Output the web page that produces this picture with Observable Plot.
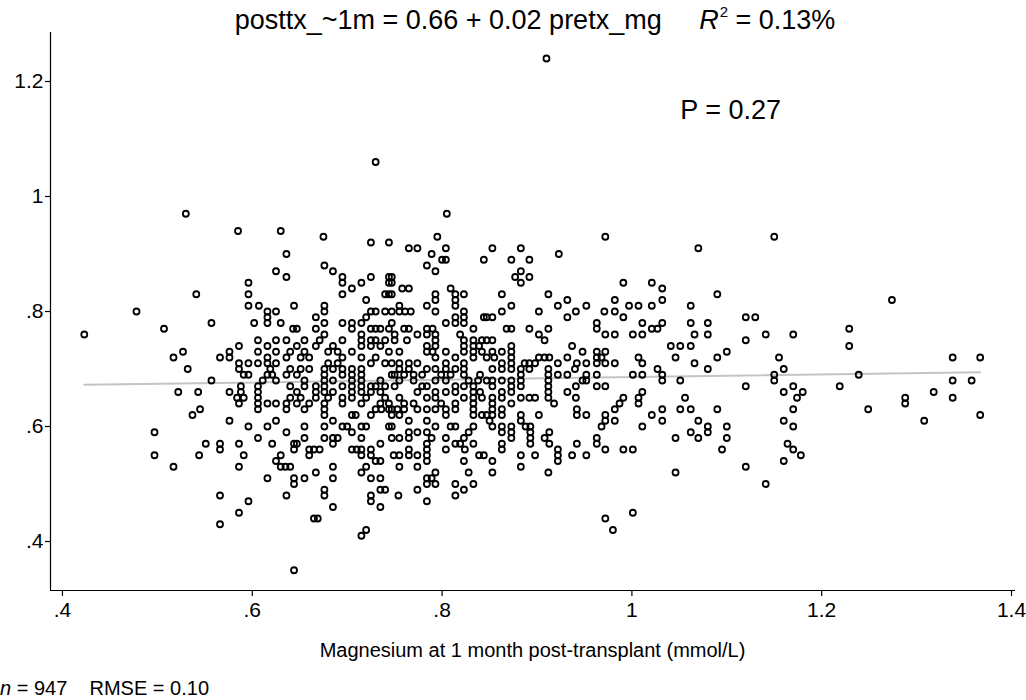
<!DOCTYPE html>
<html>
<head>
<meta charset="utf-8">
<script src="https://cdn.jsdelivr.net/npm/d3@7"></script>
<script src="https://cdn.jsdelivr.net/npm/@observablehq/plot@0.6"></script>
<style>
  body { margin: 0; background: #fff; }
  #wrap { position: relative; width: 1026px; height: 700px; font-family: "Liberation Sans", Arial, sans-serif; color: #000; }
  #chart { position: absolute; left: 0; top: 0; }
  #title { position: absolute; left: 0; width: 1070px; top: 7px; text-align: center; font-size: 27px; white-space: pre; line-height: 1; }
  #title sup { font-size: 15px; vertical-align: 0; position: relative; top: -12px; margin-left: 1px; }
  #xlabel { position: absolute; left: 50px; width: 965px; top: 640px; text-align: center; font-size: 20px; line-height: 1; }
  #footer { position: absolute; left: 0; top: 678px; font-size: 20px; white-space: pre; line-height: 1; }
</style>
</head>
<body>
<div id="wrap">
  <div id="chart"></div>
  <div id="title">posttx_~1m = 0.66 + 0.02 pretx_mg     <i>R</i><sup>2</sup> = 0.13%</div>
  <div id="xlabel">Magnesium at 1 month post-transplant (mmol/L)</div>
  <div id="footer"><i>n</i> = 947    RMSE = 0.10</div>
</div>
<script>
// Tick values and labels (Stata style, leading zero dropped)
const xTicks = [0.4, 0.6, 0.8, 1.0, 1.2, 1.4];
const xTickLabels = [".4", ".6", ".8", "1", "1.2", "1.4"];
const yTicks = [0.4, 0.6, 0.8, 1.0, 1.2];
const yTickLabels = [".4", ".6", ".8", "1", "1.2"];
const xDomain = [0.3874, 1.4042];
const yDomain = [0.3148, 1.2852];

// Fitted line endpoints
const fitX = [0.423, 1.367];
const fitY = [0.6725, 0.6944];

// Annotation
const annotations = [{x: 1.051, y: 1.15, label: "P = 0.27"}];

// Scatter points: [x = Mg at 1 month, y = post-tx Mg]
const outlierPoints = [[0.91,1.24],[0.73,1.06],[0.53,0.97],[0.805,0.97],[0.585,0.94],[0.63,0.94],[0.675,0.93],[0.795,0.93]];
const leftPoints = [[0.423,0.76],[0.478,0.80],[0.541,0.83],[0.507,0.77],[0.527,0.73],[0.517,0.72],[0.532,0.70],[0.522,0.66],[0.543,0.66],[0.537,0.62],[0.545,0.63],[0.497,0.59],[0.497,0.55],[0.517,0.53],[0.544,0.55]];
const pointsA = [[0.636,0.90],[0.625,0.87],[0.636,0.86],[0.596,0.85],[0.596,0.83],[0.596,0.81],[0.607,0.81],[0.616,0.80],[0.616,0.79],[0.616,0.78],[0.625,0.80],[0.644,0.81],[0.557,0.78],[0.602,0.78],[0.630,0.78],[0.643,0.77],[0.606,0.75],[0.616,0.74],[0.625,0.75],[0.636,0.75],[0.586,0.74],[0.576,0.73],[0.566,0.72],[0.576,0.72],[0.606,0.73],[0.616,0.72],[0.625,0.73],[0.636,0.72],[0.640,0.73],[0.586,0.71],[0.596,0.71],[0.606,0.71],[0.616,0.71],[0.625,0.71],[0.586,0.70],[0.591,0.69],[0.596,0.69],[0.619,0.70],[0.616,0.69],[0.621,0.69],[0.611,0.68],[0.625,0.68],[0.636,0.69],[0.640,0.70],[0.640,0.67],[0.557,0.68],[0.588,0.67],[0.588,0.66],[0.584,0.65],[0.591,0.65],[0.576,0.66],[0.606,0.67],[0.606,0.66],[0.606,0.65],[0.606,0.64],[0.586,0.64],[0.616,0.64],[0.625,0.64],[0.636,0.64],[0.640,0.65]];
const pointsB = [[0.606,0.63],[0.636,0.63],[0.576,0.61],[0.596,0.60],[0.616,0.60],[0.625,0.61],[0.636,0.59],[0.606,0.58],[0.551,0.57],[0.566,0.57],[0.566,0.56],[0.586,0.57],[0.621,0.57],[0.644,0.57],[0.644,0.56],[0.591,0.55],[0.630,0.55],[0.625,0.54],[0.630,0.53],[0.635,0.53],[0.640,0.53],[0.586,0.53],[0.616,0.51],[0.644,0.51],[0.644,0.50],[0.566,0.48],[0.596,0.47],[0.636,0.48],[0.586,0.45],[0.566,0.43],[0.644,0.35]];
const pointsC = [[0.725,0.92],[0.744,0.92],[0.676,0.88],[0.685,0.87],[0.695,0.86],[0.695,0.85],[0.705,0.84],[0.715,0.85],[0.725,0.86],[0.744,0.86],[0.744,0.85],[0.695,0.83],[0.72,0.82],[0.74,0.83],[0.744,0.83],[0.676,0.81],[0.676,0.80],[0.667,0.79],[0.676,0.78],[0.695,0.78],[0.705,0.78],[0.715,0.78],[0.72,0.79],[0.725,0.80],[0.73,0.80],[0.74,0.80],[0.647,0.77],[0.667,0.77],[0.676,0.76],[0.705,0.77],[0.715,0.76],[0.725,0.77],[0.73,0.77],[0.735,0.77],[0.744,0.77],[0.655,0.75],[0.671,0.75],[0.695,0.75],[0.715,0.75],[0.725,0.75],[0.73,0.75],[0.74,0.75],[0.647,0.74],[0.667,0.74],[0.685,0.74],[0.705,0.73],[0.715,0.74],[0.725,0.74],[0.735,0.74],[0.744,0.73],[0.655,0.73],[0.68,0.73],[0.69,0.73],[0.695,0.72],[0.651,0.72],[0.66,0.72],[0.68,0.71],[0.69,0.71],[0.715,0.72],[0.725,0.71],[0.73,0.72],[0.74,0.71],[0.651,0.70],[0.66,0.70],[0.676,0.70],[0.685,0.70],[0.695,0.70],[0.705,0.70],[0.715,0.70],[0.647,0.69],[0.676,0.69],[0.695,0.69],[0.705,0.69],[0.715,0.69],[0.655,0.68],[0.676,0.68],[0.685,0.68],[0.705,0.68],[0.715,0.68],[0.735,0.68],[0.655,0.67],[0.667,0.67],[0.676,0.67],[0.695,0.67],[0.705,0.67],[0.715,0.67],[0.725,0.67],[0.73,0.67],[0.74,0.67],[0.647,0.66],[0.667,0.66],[0.676,0.66],[0.685,0.66],[0.705,0.66],[0.715,0.66],[0.725,0.66],[0.735,0.66],[0.651,0.65],[0.667,0.65],[0.68,0.65],[0.695,0.65],[0.705,0.65],[0.72,0.65],[0.74,0.65],[0.647,0.64],[0.66,0.64],[0.676,0.64],[0.695,0.64],[0.715,0.64],[0.735,0.64],[0.744,0.64]];
const pointsD = [[0.655,0.63],[0.676,0.63],[0.676,0.62],[0.705,0.62],[0.709,0.62],[0.725,0.62],[0.73,0.63],[0.736,0.63],[0.744,0.63],[0.744,0.60],[0.655,0.60],[0.676,0.60],[0.685,0.61],[0.695,0.60],[0.70,0.60],[0.705,0.59],[0.715,0.60],[0.72,0.60],[0.655,0.58],[0.676,0.58],[0.685,0.58],[0.69,0.58],[0.715,0.58],[0.647,0.57],[0.685,0.57],[0.66,0.56],[0.665,0.56],[0.671,0.56],[0.705,0.56],[0.71,0.56],[0.715,0.56],[0.725,0.56],[0.735,0.57],[0.66,0.55],[0.715,0.55],[0.725,0.55],[0.73,0.54],[0.735,0.54],[0.72,0.53],[0.685,0.53],[0.715,0.52],[0.667,0.52],[0.655,0.51],[0.685,0.51],[0.725,0.51],[0.735,0.51],[0.735,0.49],[0.74,0.49],[0.676,0.49],[0.676,0.48],[0.725,0.48],[0.725,0.47],[0.735,0.46],[0.685,0.46],[0.665,0.44],[0.669,0.44],[0.72,0.42],[0.715,0.41]];
const pointsE = [[0.765,0.91],[0.774,0.91],[0.804,0.91],[0.789,0.90],[0.80,0.89],[0.804,0.89],[0.784,0.88],[0.793,0.87],[0.844,0.89],[0.747,0.86],[0.747,0.85],[0.758,0.84],[0.765,0.84],[0.747,0.83],[0.809,0.84],[0.814,0.83],[0.823,0.83],[0.793,0.83],[0.793,0.82],[0.814,0.82],[0.814,0.81],[0.784,0.81],[0.755,0.81],[0.747,0.80],[0.755,0.80],[0.761,0.80],[0.767,0.80],[0.793,0.80],[0.823,0.80],[0.814,0.79],[0.823,0.79],[0.804,0.78],[0.814,0.78],[0.823,0.78],[0.844,0.79],[0.747,0.78],[0.76,0.77],[0.765,0.77],[0.784,0.77],[0.79,0.77],[0.833,0.77],[0.75,0.76],[0.774,0.76],[0.784,0.76],[0.793,0.76],[0.819,0.76],[0.763,0.75],[0.793,0.75],[0.823,0.75],[0.833,0.75],[0.842,0.75],[0.75,0.75],[0.784,0.74],[0.793,0.74],[0.823,0.74],[0.833,0.74],[0.839,0.74],[0.755,0.73],[0.784,0.73],[0.79,0.73],[0.804,0.73],[0.823,0.73],[0.833,0.73],[0.842,0.73],[0.793,0.72],[0.814,0.72],[0.833,0.72],[0.747,0.71],[0.755,0.71],[0.765,0.71],[0.774,0.71],[0.804,0.71],[0.823,0.71],[0.755,0.70],[0.765,0.70],[0.784,0.70],[0.793,0.70],[0.804,0.70],[0.814,0.70],[0.823,0.70],[0.747,0.69],[0.75,0.69],[0.76,0.69],[0.77,0.69],[0.779,0.69],[0.799,0.69],[0.809,0.69],[0.823,0.69],[0.84,0.69],[0.755,0.68],[0.77,0.68],[0.793,0.68],[0.804,0.68],[0.828,0.68],[0.838,0.68],[0.75,0.67],[0.779,0.67],[0.784,0.67],[0.814,0.67],[0.823,0.67],[0.833,0.67],[0.774,0.66],[0.793,0.66],[0.804,0.66],[0.814,0.66],[0.833,0.66],[0.84,0.66],[0.755,0.65],[0.784,0.65],[0.793,0.65],[0.823,0.65],[0.833,0.65],[0.76,0.64],[0.77,0.64],[0.799,0.64],[0.814,0.64],[0.833,0.64],[0.842,0.65]];
const pointsF = [[0.747,0.63],[0.753,0.63],[0.76,0.63],[0.747,0.62],[0.755,0.62],[0.774,0.63],[0.784,0.63],[0.793,0.63],[0.804,0.63],[0.814,0.63],[0.804,0.62],[0.833,0.63],[0.833,0.62],[0.842,0.62],[0.784,0.61],[0.765,0.61],[0.747,0.60],[0.793,0.60],[0.809,0.60],[0.814,0.60],[0.833,0.60],[0.765,0.59],[0.774,0.59],[0.784,0.59],[0.828,0.59],[0.747,0.58],[0.755,0.58],[0.765,0.58],[0.789,0.58],[0.804,0.58],[0.823,0.58],[0.784,0.57],[0.814,0.57],[0.819,0.57],[0.833,0.57],[0.765,0.56],[0.784,0.56],[0.804,0.56],[0.824,0.56],[0.749,0.55],[0.755,0.55],[0.765,0.55],[0.774,0.55],[0.784,0.55],[0.839,0.55],[0.844,0.55],[0.784,0.54],[0.823,0.54],[0.755,0.53],[0.774,0.53],[0.793,0.52],[0.828,0.52],[0.784,0.51],[0.789,0.51],[0.784,0.50],[0.793,0.50],[0.814,0.50],[0.833,0.50],[0.774,0.49],[0.823,0.49],[0.754,0.48],[0.814,0.48],[0.784,0.47]];
const pointsG = [[0.853,0.91],[0.883,0.91],[0.923,0.90],[0.873,0.89],[0.892,0.89],[0.883,0.87],[0.877,0.86],[0.892,0.86],[0.883,0.85],[0.863,0.83],[0.912,0.83],[0.922,0.81],[0.932,0.82],[0.941,0.80],[0.873,0.81],[0.863,0.80],[0.902,0.80],[0.932,0.79],[0.853,0.79],[0.847,0.79],[0.868,0.77],[0.873,0.77],[0.892,0.77],[0.902,0.76],[0.912,0.77],[0.908,0.75],[0.853,0.75],[0.847,0.75],[0.853,0.73],[0.863,0.73],[0.873,0.74],[0.873,0.73],[0.873,0.72],[0.873,0.71],[0.847,0.72],[0.855,0.72],[0.863,0.71],[0.887,0.71],[0.892,0.71],[0.898,0.71],[0.902,0.72],[0.908,0.72],[0.913,0.72],[0.932,0.72],[0.937,0.74],[0.922,0.71],[0.942,0.71],[0.853,0.70],[0.863,0.70],[0.873,0.70],[0.883,0.70],[0.892,0.70],[0.912,0.70],[0.922,0.69],[0.932,0.69],[0.94,0.70],[0.847,0.68],[0.853,0.68],[0.863,0.68],[0.873,0.68],[0.883,0.69],[0.883,0.68],[0.912,0.69],[0.912,0.68],[0.912,0.67],[0.912,0.66],[0.912,0.65],[0.918,0.64],[0.853,0.67],[0.873,0.67],[0.883,0.67],[0.863,0.66],[0.873,0.66],[0.853,0.65],[0.863,0.65],[0.883,0.65],[0.892,0.65],[0.898,0.65],[0.853,0.64],[0.873,0.64],[0.932,0.66],[0.941,0.67],[0.941,0.65]];
const pointsH = [[0.853,0.63],[0.863,0.63],[0.853,0.62],[0.863,0.62],[0.883,0.62],[0.902,0.62],[0.942,0.63],[0.942,0.62],[0.847,0.62],[0.85,0.61],[0.883,0.61],[0.853,0.60],[0.863,0.60],[0.873,0.60],[0.888,0.60],[0.893,0.60],[0.863,0.59],[0.873,0.59],[0.893,0.59],[0.913,0.59],[0.873,0.58],[0.893,0.58],[0.908,0.58],[0.863,0.57],[0.893,0.57],[0.913,0.57],[0.942,0.57],[0.863,0.56],[0.922,0.56],[0.922,0.55],[0.922,0.54],[0.853,0.54],[0.883,0.55],[0.898,0.55],[0.937,0.55],[0.883,0.53],[0.853,0.52],[0.912,0.52]];
const pointsI = [[0.972,0.93],[1.150,0.93],[1.070,0.91],[0.991,0.85],[1.021,0.85],[1.032,0.84],[1.032,0.82],[0.982,0.82],[0.952,0.81],[0.971,0.80],[0.982,0.80],[0.997,0.81],[1.007,0.81],[1.021,0.81],[0.991,0.79],[1.062,0.81],[1.09,0.83],[0.963,0.78],[0.963,0.77],[0.972,0.76],[0.982,0.76],[1.001,0.76],[1.011,0.76],[1.011,0.78],[1.021,0.77],[1.027,0.77],[1.032,0.78],[1.062,0.78],[1.08,0.78],[1.066,0.76],[1.08,0.76],[1.12,0.79],[1.13,0.79],[1.141,0.76],[1.12,0.75],[1.17,0.76],[1.041,0.74],[1.051,0.74],[1.062,0.74],[1.046,0.72],[1.066,0.71],[1.09,0.72],[1.10,0.73],[1.08,0.70],[0.948,0.73],[0.963,0.73],[0.972,0.73],[0.963,0.72],[0.968,0.72],[0.952,0.71],[0.963,0.71],[0.972,0.71],[0.982,0.71],[1.007,0.72],[1.011,0.71],[1.027,0.70],[1.032,0.69],[1.032,0.68],[0.952,0.69],[0.963,0.69],[0.948,0.68],[0.952,0.68],[1.001,0.69],[1.011,0.69],[1.051,0.68],[0.963,0.67],[0.972,0.67],[1.12,0.67],[1.155,0.72],[1.16,0.70],[1.15,0.69],[1.15,0.68],[1.17,0.67],[1.16,0.66],[1.174,0.65],[1.011,0.66],[0.991,0.65],[1.007,0.65],[1.007,0.64],[1.056,0.65],[0.987,0.64],[0.982,0.63],[0.952,0.62],[0.972,0.62],[0.972,0.61],[0.982,0.61],[0.968,0.60],[1.011,0.60],[1.021,0.62],[1.032,0.63],[1.032,0.61],[1.051,0.63],[1.062,0.63],[1.09,0.63],[1.17,0.63],[1.16,0.61],[1.17,0.60],[1.07,0.61],[1.08,0.60],[1.08,0.59],[1.062,0.59],[1.07,0.58],[1.10,0.60],[1.10,0.58],[1.046,0.58],[0.963,0.58],[0.963,0.57],[0.952,0.55],[0.972,0.56],[0.991,0.56],[1.001,0.56],[1.095,0.56],[1.164,0.57],[1.17,0.56],[1.178,0.55],[1.16,0.54],[1.12,0.53],[1.046,0.52],[1.141,0.50],[1.001,0.45],[0.972,0.44],[0.98,0.42]];
const pointsJ = [[1.274,0.82],[1.229,0.77],[1.229,0.74],[1.338,0.72],[1.367,0.72],[1.239,0.69],[1.219,0.67],[1.338,0.68],[1.358,0.68],[1.18,0.66],[1.318,0.66],[1.288,0.65],[1.288,0.64],[1.338,0.65],[1.249,0.63],[1.308,0.61],[1.367,0.62]];

const scatter = [outlierPoints, leftPoints, pointsA, pointsB, pointsC, pointsD, pointsE, pointsF, pointsG, pointsH, pointsI, pointsJ]
  .flat().map(([x, y]) => ({x, y}));
const fit = fitX.map((x, i) => ({x, y: fitY[i]}));

const chart = Plot.plot({
  width: 1026,
  height: 700,
  marginLeft: 50,
  marginRight: 11,
  marginTop: 32,
  marginBottom: 110,
  style: {fontFamily: '"Liberation Sans", Arial, sans-serif', fontSize: "21px", color: "black", background: "white", overflow: "visible"},
  x: {domain: xDomain},
  y: {domain: yDomain},
  marks: [
    Plot.ruleX([xDomain[0]], {stroke: "black", strokeWidth: 1.2}),
    Plot.ruleY([yDomain[0]], {stroke: "black", strokeWidth: 1.2}),
    Plot.axisX({ticks: xTicks, tickFormat: d => xTickLabels[xTicks.indexOf(d)], tickSize: 6, tickPadding: 6, label: null, fontSize: 21, strokeWidth: 1.2}),
    Plot.axisY({ticks: yTicks, tickFormat: d => yTickLabels[yTicks.indexOf(d)], tickSize: 5, tickPadding: 2, label: null, fontSize: 21, strokeWidth: 1.2}),
    Plot.line(fit, {x: "x", y: "y", stroke: "#c4c4c4", strokeWidth: 2}),
    Plot.dot(scatter, {x: "x", y: "y", r: 3, stroke: "black", strokeWidth: 1.8, fill: "none"}),
    Plot.text(annotations, {x: "x", y: "y", text: "label", textAnchor: "start", fontSize: 27})
  ]
});
document.getElementById("chart").appendChild(chart);
</script>
</body>
</html>
